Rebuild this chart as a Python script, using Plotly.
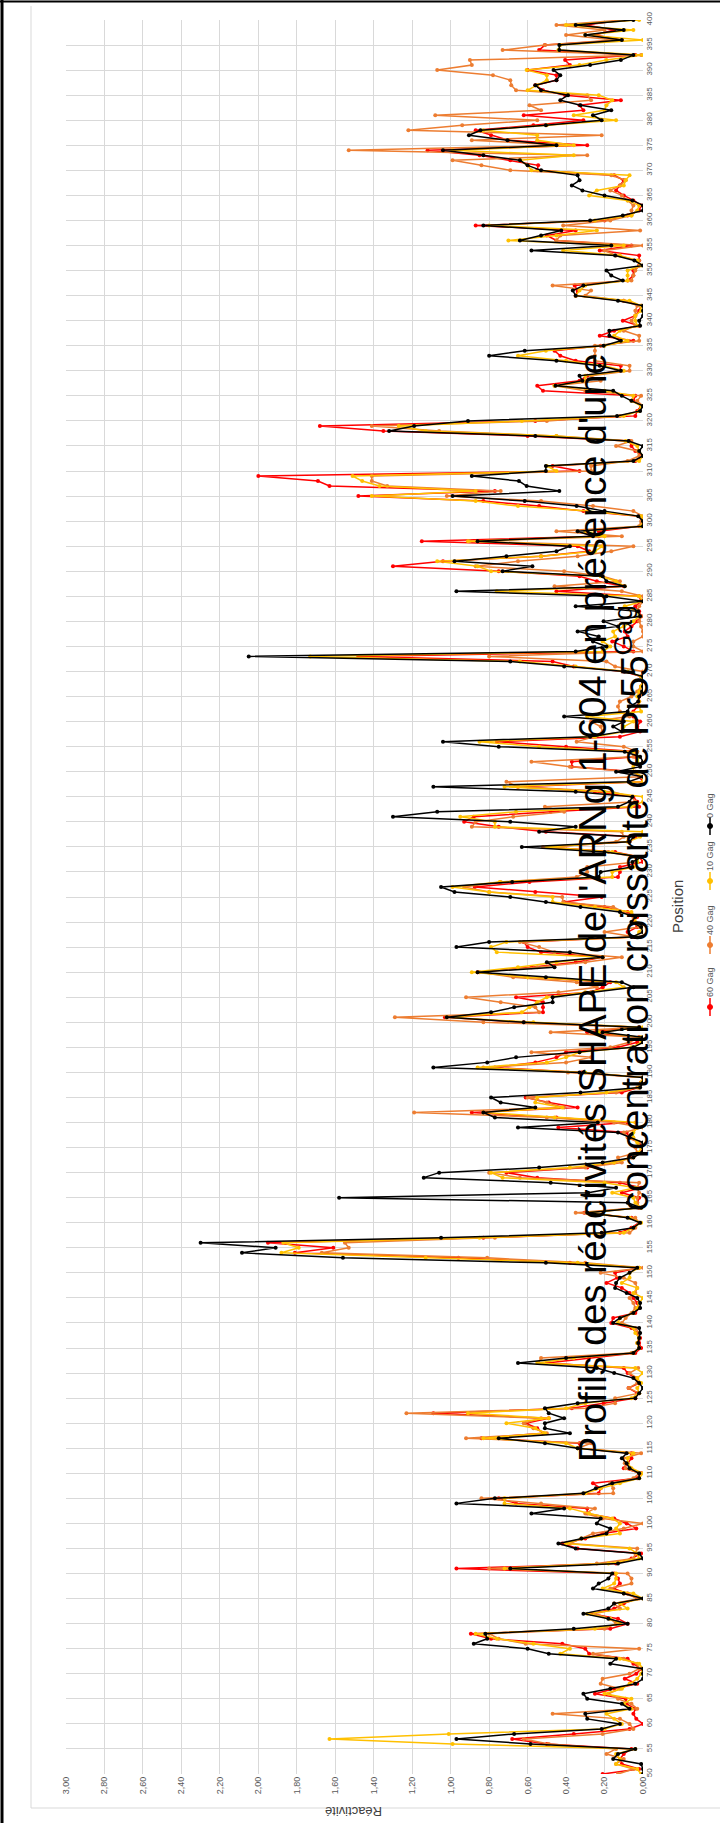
import plotly.graph_objects as go

positions = list(range(50, 401))

gag0 = [
    0.00, 0.00, 0.01, 0.155, 0.13, 0.04, 0.585, 0.97, 0.67, 0.215,
    0.12, 0.29, 0.30, 0.07, 0.11, 0.29, 0.31, 0.17, 0.04, 0.00,
    0.00, 0.00, 0.17, 0.14, 0.49, 0.60, 0.88, 0.81, 0.82, 0.36,
    0.08, 0.18, 0.31, 0.18, 0.15, 0.00, 0.10, 0.26, 0.23, 0.18,
    0.16, 0.69, 0.13, 0.00, 0.02, 0.35, 0.44, 0.32, 0.19, 0.17,
    0.24, 0.22, 0.58, 0.41, 0.97, 0.77, 0.31, 0.245, 0.16, 0.02,
    0.02, 0.07, 0.085, 0.11, 0.085, 0.34, 0.51, 0.75, 0.38, 0.51,
    0.51, 0.41, 0.49, 0.51, 0.34, 0.04, 0.02, 0.00, 0.02, 0.05,
    0.15, 0.24, 0.65, 0.40, 0.05, 0.02, 0.025, 0.02, 0.015, 0.02,
    0.155, 0.12, 0.05, 0.015, 0.015, 0.03, 0.085, 0.145, 0.14, 0.12,
    0.07, 0.03, 0.505, 1.56, 2.085, 1.91, 2.30, 1.05, 0.215, 0.05,
    0.015, 0.08, 0.29, 0.01, 0.08, 1.58, 0.285, 0.14, 0.48, 1.14,
    1.06, 0.54, 0.21, 0.05, 0.005, 0.00, 0.00, 0.07, 0.13, 0.65,
    0.235, 0.77, 0.83, 0.56, 0.74, 0.79, 0.325, 0.015, 0.00, 0.00,
    0.33, 1.09, 0.81, 0.66, 0.33, 0.05, 0.00, 0.00, 0.21, 0.02,
    0.62, 1.02, 0.79, 0.67, 0.47, 0.47, 0.26, 0.05, 0.11, 0.505,
    0.86, 0.46, 0.50, 0.21, 0.38, 0.97, 0.80, 0.06, 0.00, 0.01,
    0.06, 0.04, 0.12, 0.325, 0.505, 0.69, 0.98, 1.05, 0.68, 0.23,
    0.22, 0.055, 0.055, 0.005, 0.20, 0.63, 0.07, 0.05, 0.54, 0.35,
    0.69, 1.30, 1.07, 0.13, 0.07, 0.055, 0.35, 1.09, 0.075, 0.00,
    0.14, 0.015, 0.00, 0.015, 0.095, 0.75, 1.04, 0.275, 0.11, 0.155,
    0.10, 0.41, 0.08, 0.07, 0.025, 0.02, 0.005, 0.00, 0.00, 0.00,
    0.095, 0.41, 0.69, 2.05, 0.35, 0.19, 0.26, 0.23, 0.34, 0.13,
    0.205, 0.015, 0.025, 0.35, 0.00, 0.19, 0.97, 0.095, 0.19, 0.21,
    0.73, 0.575, 0.98, 0.71, 0.45, 0.38, 0.86, 0.26, 0.34, 0.00,
    0.00, 0.025, 0.20, 0.345, 0.615, 0.99, 0.435, 0.605, 0.645, 0.89,
    0.505, 0.505, 0.05, 0.00, 0.02, 0.00, 0.075, 0.56, 1.32, 1.19,
    0.91, 0.135, 0.015, 0.00, 0.06, 0.11, 0.155, 0.455, 0.315, 0.33,
    0.115, 0.225, 0.45, 0.80, 0.615, 0.205, 0.115, 0.175, 0.175, 0.015,
    0.02, 0.00, 0.00, 0.00, 0.13, 0.35, 0.365, 0.31, 0.105, 0.165,
    0.19, 0.00, 0.045, 0.145, 0.58, 0.165, 0.64, 0.53, 0.425, 0.83,
    0.275, 0.105, 0.00, 0.00, 0.055, 0.20, 0.315, 0.37, 0.33, 0.34,
    0.53, 0.60, 0.64, 0.83, 1.04, 0.45, 0.705, 0.905, 0.845, 0.505,
    0.215, 0.26, 0.165, 0.325, 0.43, 0.39, 0.53, 0.56, 0.45, 0.43,
    0.465, 0.275, 0.115, 0.05, 0.435, 0.435, 0.11, 0.30, 0.10, 0.35,
    0.05,
]

gag60 = [
    0.21, 0.02, 0.11, 0.12, 0.10, 0.06, 0.50, 0.68, 0.36, 0.07,
    0.00, 0.035, 0.05, 0.04, 0.085, 0.09, 0.25, 0.15, 0.03, 0.095,
    0.035, 0.01, 0.05, 0.08, 0.28, 0.30, 0.42, 0.79, 0.895, 0.17,
    0.08, 0.13, 0.27, 0.15, 0.10, 0.03, 0.08, 0.15, 0.12, 0.13,
    0.15, 0.97, 0.14, 0.06, 0.01, 0.34, 0.42, 0.30, 0.21, 0.035,
    0.085, 0.15, 0.29, 0.29, 0.66, 0.75, 0.23, 0.22, 0.26, 0.03,
    0.01, 0.10, 0.08, 0.06, 0.06, 0.33, 0.33, 0.84, 0.52, 0.55,
    0.61, 0.49, 1.09, 0.37, 0.205, 0.04, 0.03, 0.075, 0.02, 0.04,
    0.08, 0.10, 0.50, 0.28, 0.04, 0.01, 0.02, 0.015, 0.03, 0.06,
    0.165, 0.155, 0.04, 0.02, 0.03, 0.05, 0.07, 0.11, 0.19, 0.135,
    0.145, 0.02, 0.38, 0.96, 1.81, 1.61, 1.95, 0.83, 0.12, 0.06,
    0.02, 0.06, 0.305, 0.02, 0.03, 0.02, 0.11, 0.01, 0.12, 0.55,
    0.71, 0.29, 0.15, 0.06, 0.01, 0.00, 0.02, 0.07, 0.085, 0.44,
    0.08, 0.45, 0.89, 0.34, 0.49, 0.61, 0.11, 0.02, 0.01, 0.00,
    0.32, 0.77, 0.56, 0.45, 0.40, 0.13, 0.03, 0.02, 0.29, 0.02,
    0.62, 1.03, 0.52, 0.52, 0.52, 0.66, 0.27, 0.21, 0.17, 0.60,
    0.86, 0.58, 0.35, 0.21, 0.53, 0.60, 0.62, 0.05, 0.08, 0.03,
    0.05, 0.03, 0.08, 0.20, 0.41, 0.215, 0.56, 0.875, 0.59, 0.13,
    0.12, 0.12, 0.00, 0.02, 0.145, 0.50, 0.07, 0.04, 0.505, 0.75,
    0.93, 0.88, 0.48, 0.02, 0.03, 0.05, 0.25, 0.65, 0.00, 0.02,
    0.04, 0.37, 0.37, 0.04, 0.03, 0.40, 0.76, 0.12, 0.015, 0.03,
    0.015, 0.05, 0.05, 0.03, 0.02, 0.02, 0.02, 0.01, 0.00, 0.01,
    0.10, 0.36, 0.47, 1.48, 0.05, 0.10, 0.16, 0.08, 0.095, 0.06,
    0.03, 0.01, 0.02, 0.04, 0.01, 0.02, 0.45, 0.10, 0.24, 0.33,
    0.75, 1.30, 1.04, 0.53, 0.28, 0.34, 1.15, 0.23, 0.23, 0.01,
    0.00, 0.02, 0.31, 0.54, 0.83, 1.48, 0.77, 1.63, 1.69, 2.00,
    0.33, 0.47, 0.04, 0.00, 0.04, 0.06, 0.07, 0.60, 1.35, 1.68,
    0.56, 0.04, 0.03, 0.01, 0.05, 0.04, 0.52, 0.55, 0.33, 0.29,
    0.12, 0.115, 0.35, 0.43, 0.46, 0.22, 0.05, 0.225, 0.15, 0.02,
    0.105, 0.04, 0.02, 0.01, 0.10, 0.35, 0.34, 0.355, 0.08, 0.05,
    0.05, 0.02, 0.02, 0.02, 0.225, 0.06, 0.45, 0.50, 0.35, 0.87,
    0.20, 0.08, 0.02, 0.01, 0.05, 0.10, 0.14, 0.12, 0.10, 0.15,
    0.55, 0.545, 0.69, 0.85, 1.12, 0.29, 0.70, 0.79, 0.87, 0.57,
    0.31, 0.62, 0.31, 0.33, 0.115, 0.405, 0.52, 0.56, 0.45, 0.45,
    0.60, 0.38, 0.405, 0.04, 0.54, 0.51, 0.11, 0.25, 0.15, 0.30,
    0.10,
]

gag40 = [
    0.13, 0.05, 0.14, 0.10, 0.19, 0.14, 0.49, 0.62, 0.21, 0.05,
    0.07, 0.12, 0.47, 0.03, 0.06, 0.13, 0.18, 0.12, 0.22, 0.21,
    0.07, 0.02, 0.03, 0.10, 0.26, 0.02, 0.61, 0.75, 0.80, 0.20,
    0.14, 0.17, 0.25, 0.12, 0.15, 0.02, 0.10, 0.17, 0.06, 0.06,
    0.08, 0.80, 0.24, 0.05, 0.04, 0.03, 0.38, 0.32, 0.26, 0.10,
    0.00, 0.21, 0.30, 0.25, 0.53, 0.84, 0.155, 0.155, 0.17, 0.05,
    0.02, 0.09, 0.095, 0.10, 0.01, 0.34, 0.27, 0.92, 0.50, 0.57,
    0.62, 0.53, 1.23, 0.29, 0.145, 0.145, 0.02, 0.075, 0.03, 0.03,
    0.07, 0.025, 0.545, 0.53, 0.06, 0.02, 0.03, 0.02, 0.02, 0.04,
    0.11, 0.09, 0.06, 0.04, 0.05, 0.07, 0.04, 0.03, 0.04, 0.10,
    0.22, 0.00, 0.30, 0.81, 1.67, 1.53, 1.55, 0.77, 0.07, 0.04,
    0.02, 0.04, 0.35, 0.02, 0.03, 0.03, 0.02, 0.03, 0.02, 0.64,
    0.80, 0.30, 0.11, 0.13, 0.03, 0.04, 0.02, 0.08, 0.10, 0.00,
    0.15, 0.50, 1.19, 0.41, 0.50, 0.60, 0.14, 0.03, 0.00, 0.00,
    0.39, 0.83, 0.40, 0.27, 0.58, 0.17, 0.07, 0.02, 0.48, 0.02,
    0.83, 1.29, 0.54, 0.56, 0.74, 0.92, 0.44, 0.24, 0.345, 0.675,
    0.85, 0.55, 0.30, 0.11, 0.46, 0.54, 0.64, 0.04, 0.20, 0.02,
    0.06, 0.05, 0.10, 0.155, 0.415, 0.42, 0.80, 0.93, 0.74, 0.345,
    0.29, 0.29, 0.03, 0.04, 0.18, 0.52, 0.14, 0.10, 0.11, 0.89,
    0.87, 0.675, 0.41, 0.51, 0.04, 0.06, 0.16, 0.65, 0.71, 0.01,
    0.06, 0.38, 0.58, 0.05, 0.03, 0.10, 0.345, 0.25, 0.21, 0.22,
    0.27, 0.07, 0.12, 0.13, 0.12, 0.06, 0.03, 0.01, 0.00, 0.00,
    0.00, 0.145, 0.19, 0.80, 0.00, 0.05, 0.05, 0.00, 0.00, 0.01,
    0.02, 0.01, 0.03, 0.02, 0.00, 0.00, 0.11, 0.46, 0.12, 0.21,
    0.41, 0.87, 0.65, 0.34, 0.165, 0.05, 0.90, 0.11, 0.45, 0.02,
    0.01, 0.00, 0.05, 0.26, 0.53, 1.02, 0.74, 1.33, 1.41, 1.41,
    0.27, 0.27, 0.08, 0.02, 0.03, 0.14, 0.06, 0.45, 1.06, 1.41,
    0.50, 0.12, 0.02, 0.00, 0.03, 0.01, 0.30, 0.46, 0.22, 0.27,
    0.07, 0.07, 0.25, 0.25, 0.25, 0.25, 0.02, 0.02, 0.10, 0.04,
    0.06, 0.04, 0.04, 0.03, 0.10, 0.30, 0.27, 0.47, 0.06, 0.05,
    0.04, 0.02, 0.02, 0.14, 0.20, 0.00, 0.45, 0.43, 0.015, 0.415,
    0.17, 0.06, 0.06, 0.05, 0.08, 0.11, 0.17, 0.12, 0.09, 0.165,
    0.69, 0.84, 0.99, 0.29, 1.53, 0.40, 0.89, 0.215, 1.22, 0.94,
    0.55, 1.08, 0.53, 0.59, 0.27, 0.29, 0.66, 0.685, 0.69, 0.78,
    1.07, 0.89, 0.90, 0.01, 0.73, 0.51, 0.15, 0.40, 0.20, 0.45,
    0.10,
]

gag10 = [
    0.01, 0.03, 0.14, 0.12, 0.14, 0.04, 0.99, 1.63, 1.01, 0.20,
    0.11, 0.15, 0.19, 0.06, 0.10, 0.06, 0.20, 0.11, 0.07, 0.03,
    0.01, 0.00, 0.02, 0.12, 0.43, 0.38, 0.57, 0.76, 0.87, 0.25,
    0.12, 0.17, 0.29, 0.08, 0.12, 0.00, 0.05, 0.21, 0.15, 0.14,
    0.14, 0.72, 0.18, 0.02, 0.03, 0.07, 0.40, 0.32, 0.12, 0.14,
    0.12, 0.16, 0.28, 0.38, 0.72, 0.72, 0.30, 0.22, 0.12, 0.02,
    0.00, 0.06, 0.08, 0.08, 0.05, 0.34, 0.40, 0.83, 0.51, 0.56,
    0.71, 0.49, 0.91, 0.40, 0.30, 0.06, 0.02, 0.03, 0.01, 0.03,
    0.00, 0.04, 0.55, 0.36, 0.05, 0.02, 0.03, 0.02, 0.04, 0.05,
    0.13, 0.12, 0.05, 0.03, 0.02, 0.00, 0.05, 0.03, 0.11, 0.07,
    0.07, 0.02, 0.34, 1.13, 1.88, 1.79, 1.87, 0.85, 0.10, 0.05,
    0.01, 0.07, 0.29, 0.01, 0.04, 0.05, 0.16, 0.04, 0.20, 0.73,
    0.79, 0.38, 0.15, 0.05, 0.02, 0.01, 0.03, 0.05, 0.05, 0.03,
    0.04, 0.46, 0.83, 0.42, 0.56, 0.55, 0.19, 0.02, 0.01, 0.00,
    0.30, 0.86, 0.50, 0.40, 0.33, 0.06, 0.01, 0.01, 0.23, 0.00,
    0.57, 1.02, 0.63, 0.59, 0.55, 0.50, 0.30, 0.10, 0.14, 0.60,
    0.89, 0.65, 0.45, 0.21, 0.76, 0.79, 0.71, 0.04, 0.02, 0.00,
    0.04, 0.04, 0.06, 0.25, 0.47, 0.47, 0.80, 0.99, 0.745, 0.16,
    0.16, 0.05, 0.03, 0.02, 0.16, 0.50, 0.08, 0.015, 0.00, 0.77,
    0.77, 0.95, 0.66, 0.06, 0.00, 0.00, 0.20, 0.72, 0.00, 0.00,
    0.05, 0.05, 0.03, 0.02, 0.05, 0.54, 0.85, 0.25, 0.10, 0.10,
    0.05, 0.29, 0.01, 0.02, 0.02, 0.03, 0.02, 0.01, 0.00, 0.01,
    0.08, 0.35, 0.64, 1.73, 0.21, 0.17, 0.21, 0.145, 0.155, 0.10,
    0.05, 0.02, 0.03, 0.095, 0.00, 0.02, 0.76, 0.095, 0.14, 0.22,
    0.79, 0.86, 1.07, 0.53, 0.25, 0.21, 0.91, 0.20, 0.30, 0.01,
    0.00, 0.01, 0.285, 0.65, 0.87, 1.41, 0.87, 1.37, 1.46, 1.51,
    0.45, 0.50, 0.02, 0.00, 0.02, 0.03, 0.09, 0.45, 1.13, 1.27,
    0.63, 0.10, 0.02, 0.01, 0.06, 0.05, 0.20, 0.46, 0.30, 0.30,
    0.10, 0.20, 0.40, 0.65, 0.505, 0.20, 0.08, 0.15, 0.12, 0.03,
    0.04, 0.04, 0.01, 0.01, 0.07, 0.35, 0.33, 0.30, 0.08, 0.08,
    0.08, 0.01, 0.03, 0.12, 0.415, 0.10, 0.70, 0.45, 0.24, 0.80,
    0.25, 0.06, 0.03, 0.02, 0.08, 0.28, 0.24, 0.10, 0.09, 0.07,
    0.58, 0.60, 0.64, 0.36, 0.99, 0.36, 0.55, 0.55, 0.83, 0.50,
    0.14, 0.36, 0.20, 0.19, 0.16, 0.23, 0.60, 0.55, 0.50, 0.50,
    0.605, 0.33, 0.19, 0.00, 0.44, 0.43, 0.00, 0.30, 0.05, 0.40,
    0.02,
]

series_names = ["60 Gag", "40 Gag", "10 Gag", "0 Gag"]
series_values = [gag60, gag40, gag10, gag0]
series_colors = ["#ff0000", "#ed7d31", "#ffc000", "#000000"]

react_ticks = [round(i * 0.2, 2) for i in range(16)]
react_labels = [f"{v:.2f}".replace(".", ",") for v in react_ticks]
pos_ticks = list(range(50, 401, 5))

title_lines = [
    "Profils des réactivités SHAPE de l'ARNg 1-604 en présence d'une",
    "concentration croissante de Pr55<sup>Gag</sup>",
]

for s in series_values:
    assert len(s) == len(positions), len(s)

W, H = 720, 1823
L, R, T, B = 66, 643, 20, 1774


def px(x):
    return (x - L) / (R - L)


def py(y):
    return (B - y) / (B - T)


fig = go.Figure()
for name, vals, col in zip(series_names, series_values, series_colors):
    fig.add_trace(go.Scatter(
        x=vals, y=positions, mode="lines+markers", name=name,
        line=dict(color=col, width=1.5),
        marker=dict(color=col, size=4),
        showlegend=False,
    ))

FONT = "Liberation Sans, Arial, sans-serif"
fig.update_layout(
    width=W, height=H, autosize=False,
    margin=dict(l=L, r=W - R, t=T, b=H - B, pad=0),
    paper_bgcolor="white", plot_bgcolor="white",
    font=dict(family=FONT, color="#595959"),
    xaxis=dict(
        range=[3.0, 0.0], autorange=False,
        tickvals=react_ticks, ticktext=react_labels, tickangle=-90,
        tickfont=dict(size=9, color="#595959"),
        showgrid=True, gridcolor="#d9d9d9", gridwidth=1,
        zeroline=False, showline=False, ticks="",
    ),
    yaxis=dict(
        range=[50, 400], autorange=False, side="right",
        tickvals=pos_ticks, tickangle=-90,
        tickfont=dict(size=8, color="#595959"),
        showgrid=True, gridcolor="#d9d9d9", gridwidth=1,
        zeroline=False, showline=False, ticks="",
    ),
)

annotations = [
    dict(text=title_lines[0], x=px(593), y=py(908), xref="paper", yref="paper",
         showarrow=False, textangle=-90, font=dict(size=38, color="#000000", family=FONT),
         xanchor="center", yanchor="middle"),
    dict(text=title_lines[1], x=px(632), y=py(908), xref="paper", yref="paper",
         showarrow=False, textangle=-90, font=dict(size=38, color="#000000", family=FONT),
         xanchor="center", yanchor="middle"),
    dict(text="Réactivité", x=px(354), y=py(1812), xref="paper", yref="paper",
         showarrow=False, textangle=180, font=dict(size=13, color="#404040", family=FONT),
         xanchor="center", yanchor="middle"),
    dict(text="Position", x=px(677), y=py(907), xref="paper", yref="paper",
         showarrow=False, textangle=-90, font=dict(size=15, color="#404040", family=FONT),
         xanchor="center", yanchor="middle"),
]

shapes = []
# legend: (text centre y, symbol centre y) in pixels
legend_pos = {"0 Gag": (806, 826), "10 Gag": (856, 881), "40 Gag": (920, 945), "60 Gag": (982, 1007)}
LX = 710
for name, col in zip(series_names, series_colors):
    ty, sy = legend_pos[name]
    annotations.append(dict(
        text=name, x=px(LX), y=py(ty), xref="paper", yref="paper",
        showarrow=False, textangle=-90, font=dict(size=9, color="#595959", family=FONT),
        xanchor="center", yanchor="middle"))
    shapes.append(dict(type="line", xref="paper", yref="paper",
                       x0=px(LX), x1=px(LX), y0=py(sy - 9), y1=py(sy + 9),
                       line=dict(color=col, width=1.5)))
    shapes.append(dict(type="circle", xref="paper", yref="paper",
                       x0=px(LX - 2.5), x1=px(LX + 2.5), y0=py(sy + 2.5), y1=py(sy - 2.5),
                       line=dict(color=col, width=1), fillcolor=col))

# light chart-area frame (left and bottom) and black picture border (left and top)
shapes.append(dict(type="line", xref="paper", yref="paper",
                   x0=px(31), x1=px(31), y0=py(1808), y1=py(6),
                   line=dict(color="#d9d9d9", width=1)))
shapes.append(dict(type="line", xref="paper", yref="paper",
                   x0=px(31), x1=px(720), y0=py(1808), y1=py(1808),
                   line=dict(color="#d9d9d9", width=1)))
shapes.append(dict(type="line", xref="paper", yref="paper",
                   x0=px(2), x1=px(2), y0=py(1823), y1=py(0),
                   line=dict(color="#000000", width=3)))
shapes.append(dict(type="line", xref="paper", yref="paper",
                   x0=px(0), x1=px(720), y0=py(1.5), y1=py(1.5),
                   line=dict(color="#000000", width=2)))

fig.update_layout(annotations=annotations, shapes=shapes)

page_fix = ("document.documentElement.style.margin='0';"
            "document.documentElement.style.overflow='hidden';"
            "document.body.style.margin='0';"
            "document.body.style.padding='0';"
            "document.body.style.overflow='hidden';")
fig.write_html("out.html", post_script=page_fix,
               config={"displayModeBar": False, "staticPlot": True})
